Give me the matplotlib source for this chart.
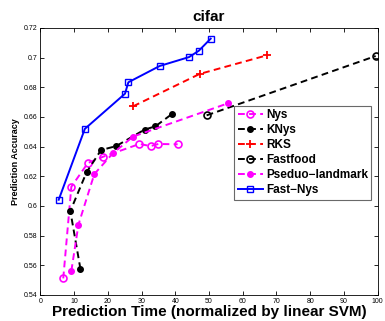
import matplotlib
matplotlib.use("Agg")
import matplotlib.pyplot as plt

plt.rcParams['font.family'] = ['Liberation Sans', 'DejaVu Sans']

# Data
nys_time = [6.8, 9.2, 14.1, 18.6, 29.4, 32.7, 35.0, 40.7]
nys_acc = [0.5512, 0.6130, 0.6290, 0.6332, 0.6418, 0.6404, 0.6418, 0.6416]

knys_time = [11.9, 8.9, 13.7, 18.0, 22.5, 30.9, 34.1, 38.9]
knys_acc = [0.5575, 0.5966, 0.6227, 0.6377, 0.6404, 0.6515, 0.6537, 0.6618]

rks_time = [27.5, 47.2, 67.2]
rks_acc = [0.6672, 0.6890, 0.7016]

fastfood_time = [49.3, 99.4]
fastfood_acc = [0.6611, 0.7011]

pseudo_time = [9.2, 11.3, 16.0, 21.5, 27.5, 55.6]
pseudo_acc = [0.5562, 0.5874, 0.6215, 0.6355, 0.6468, 0.6692]

fastnys_time = [5.45, 13.2, 25.1, 26.1, 35.4, 44.1, 47.0, 50.5]
fastnys_acc = [0.6042, 0.6520, 0.6757, 0.6834, 0.6944, 0.7004, 0.7047, 0.7128]

x_ticks = list(range(0, 101, 10))
y_ticks = [0.54, 0.56, 0.58, 0.6, 0.62, 0.64, 0.66, 0.68, 0.7, 0.72]

fig = plt.figure(figsize=(3.85, 3.21), dpi=100)
ax = fig.add_axes([0.1047, 0.081, 0.8763, 0.8318])

dash = (0, (3.5, 2.2))
lw = 1.4
ax.plot(nys_time, nys_acc, color='#ff00ff', linestyle=dash, lw=lw,
        marker='o', mfc='none', mec='#ff00ff', ms=5, mew=1.2, label='Nys')
ax.plot(knys_time, knys_acc, color='black', linestyle=dash, lw=lw,
        marker='.', ms=8, label='KNys')
ax.plot(rks_time, rks_acc, color='red', linestyle=dash, lw=lw,
        marker='+', ms=6, mew=1.3, label='RKS')
ax.plot(fastfood_time, fastfood_acc, color='black', linestyle=dash, lw=lw,
        marker='o', mfc='none', ms=5, mew=1.2, label='Fastfood')
ax.plot(pseudo_time, pseudo_acc, color='#ff00ff', linestyle=dash, lw=lw,
        marker='.', ms=8, label='Pseduo\u2212landmark')
ax.plot(fastnys_time, fastnys_acc, color='blue', linestyle='-', lw=lw,
        marker='s', mfc='none', mec='blue', ms=4.5, mew=1.0, label='Fast\u2212Nys')

ax.set_xlim(0, 100)
ax.set_ylim(0.54, 0.72)
ax.set_xticks(x_ticks)
ax.set_yticks(y_ticks)
ax.set_xticklabels([str(t) for t in x_ticks])
ax.set_yticklabels(['%g' % t for t in y_ticks])
ax.tick_params(direction='in', top=True, right=True, labelsize=5, length=3,
               width=0.6, pad=2)
for s in ax.spines.values():
    s.set_linewidth(0.6)

ax.set_title('cifar', fontsize=11, fontweight='bold', pad=5)
ax.set_xlabel('Prediction Time (normalized by linear SVM)', fontsize=11,
              fontweight='bold', labelpad=0)
ax.set_ylabel('Prediction Accuracy', fontsize=6.5, fontweight='bold', labelpad=3)

leg = ax.legend(loc='upper left', bbox_to_anchor=(0.574, 0.708), fontsize=8.5,
                frameon=True, fancybox=False, handlelength=2.2, handletextpad=0.2,
                borderpad=0.3, labelspacing=0.25, borderaxespad=0)
leg.get_frame().set_edgecolor('#444444')
leg.get_frame().set_linewidth(0.8)
for t in leg.get_texts():
    t.set_fontweight('bold')

fig.savefig('out.png', dpi=100)
